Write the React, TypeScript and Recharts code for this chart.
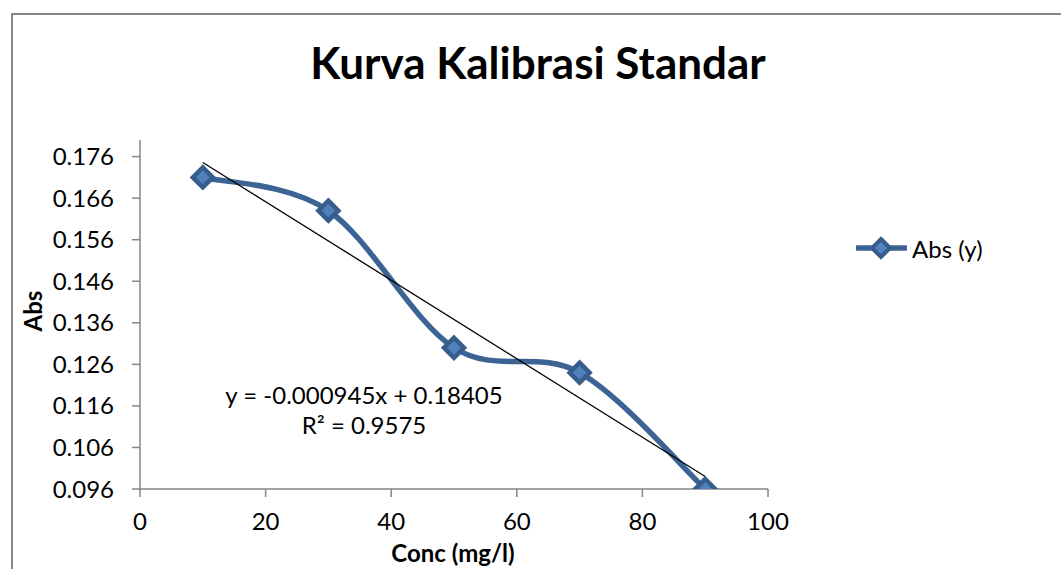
import React from 'react';
import { LineChart, Line, XAxis, YAxis } from 'recharts';

const concValues = [10, 30, 50, 70, 90];
const absValues = [0.171, 0.163, 0.13, 0.124, 0.096];
const trendX = [10, 90];
const trendValues = [0.1746, 0.099];
const xTicks = [0, 20, 40, 60, 80, 100];
const yTicks = [0.096, 0.106, 0.116, 0.126, 0.136, 0.146, 0.156, 0.166, 0.176];
const yTickLabels = ['0.096', '0.106', '0.116', '0.126', '0.136', '0.146', '0.156', '0.166', '0.176'];

const data = concValues.map((c, i) => ({ conc: c, abs: absValues[i] }));
const trendData = trendX.map((c, i) => ({ conc: c, trend: trendValues[i] }));

const FONT = 'Lato, "Open Sans", sans-serif';
const LINE_COLOR = '#3B6494';
const MARKER_EDGE = '#375D8C';
const MARKER_FILL = '#4F81BD';

// Excel-like smoothed curve (Catmull-Rom as cubic Bezier)
const excelSmooth: any = (context: any) => {
  let pts: number[][] = [];
  return {
    areaStart() {},
    areaEnd() {},
    lineStart() {
      pts = [];
    },
    lineEnd() {
      if (!pts.length) return;
      context.moveTo(pts[0][0], pts[0][1]);
      for (let i = 0; i < pts.length - 1; i++) {
        const p0 = pts[i - 1] || pts[i];
        const p1 = pts[i];
        const p2 = pts[i + 1];
        const p3 = pts[i + 2] || p2;
        context.bezierCurveTo(
          p1[0] + (p2[0] - p0[0]) / 6,
          p1[1] + (p2[1] - p0[1]) / 6,
          p2[0] - (p3[0] - p1[0]) / 6,
          p2[1] - (p3[1] - p1[1]) / 6,
          p2[0],
          p2[1]
        );
      }
    },
    point(x: number, y: number) {
      pts.push([+x, +y]);
    },
  };
};

const diamondPath = (cx: number, cy: number, r: number) =>
  `M${cx},${cy - r}L${cx + r},${cy}L${cx},${cy + r}L${cx - r},${cy}Z`;

const DiamondDot = (props: any) => {
  const { cx, cy, index } = props;
  if (cx == null || cy == null) return <g key={`d-${index}`} />;
  return (
    <path
      key={`d-${index}`}
      d={diamondPath(cx, cy, 10)}
      fill={MARKER_FILL}
      stroke={MARKER_EDGE}
      strokeWidth={4.5}
      strokeLinejoin="miter"
    />
  );
};

export default function App() {
  const tickStyle = { fontFamily: FONT, fontSize: 24, fill: '#000' };
  return (
    <div style={{ position: 'absolute', left: 0, top: 0, width: 1061, height: 569, background: '#fff', overflow: 'hidden' }}>
      <div
        style={{
          position: 'absolute',
          left: 11,
          top: 13,
          width: 1100,
          height: 600,
          border: '2px solid #878787',
          boxSizing: 'border-box',
        }}
      />
      <div
        style={{
          position: 'absolute',
          left: 0,
          width: 1076,
          top: 34,
          textAlign: 'center',
          fontFamily: FONT,
          fontWeight: 700,
          fontSize: 44,
          lineHeight: '56px',
          color: '#000',
        }}
      >
        Kurva Kalibrasi Standar
      </div>
      <div style={{ position: 'absolute', left: 0, top: 0 }}>
        <LineChart width={1061} height={569} data={data} margin={{ top: 140, right: 293, bottom: 40, left: 40 }}>
          <XAxis
            dataKey="conc"
            type="number"
            domain={[0, 100]}
            ticks={xTicks}
            height={40}
            tickSize={8}
            tickMargin={16}
            tick={tickStyle}
            stroke="#868686"
            strokeWidth={1.5}
            allowDataOverflow
          />
          <YAxis
            type="number"
            domain={[0.096, 0.18]}
            ticks={yTicks}
            width={100}
            tickSize={8}
            tickMargin={18}
            tick={tickStyle}
            tickFormatter={(v: number) => {
              const i = yTicks.indexOf(v);
              return i >= 0 ? yTickLabels[i] : String(v);
            }}
            stroke="#868686"
            strokeWidth={1.5}
            allowDataOverflow
          />
          <Line
            dataKey="abs"
            name="Abs (y)"
            type={excelSmooth}
            stroke={LINE_COLOR}
            strokeWidth={5.5}
            dot={DiamondDot}
            activeDot={false}
            isAnimationActive={false}
          />
          <Line
            data={trendData}
            dataKey="trend"
            type="linear"
            stroke="#000"
            strokeWidth={1.3}
            dot={false}
            activeDot={false}
            legendType="none"
            isAnimationActive={false}
          />
        </LineChart>
      </div>
      <div
        style={{
          position: 'absolute',
          left: 855,
          top: 233,
          display: 'flex',
          alignItems: 'center',
          fontFamily: FONT,
          fontSize: 24,
          color: '#000',
        }}
      >
        <svg width={54} height={30}>
          <line x1={1} y1={15} x2={52} y2={15} stroke={LINE_COLOR} strokeWidth={5.5} />
          <path d={diamondPath(26, 15, 9)} fill={MARKER_FILL} stroke={MARKER_EDGE} strokeWidth={4} />
        </svg>
        <span style={{ marginLeft: 3 }}>Abs (y)</span>
      </div>
      <div
        style={{
          position: 'absolute',
          left: 15,
          top: 296,
          width: 36,
          height: 30,
          transform: 'rotate(-90deg)',
          transformOrigin: 'center',
          textAlign: 'center',
          fontFamily: FONT,
          fontWeight: 700,
          fontSize: 24,
          lineHeight: '30px',
          color: '#000',
          whiteSpace: 'nowrap',
          display: 'flex',
          justifyContent: 'center',
        }}
      >
        Abs
      </div>
      <div
        style={{
          position: 'absolute',
          left: 303,
          width: 300,
          top: 538,
          textAlign: 'center',
          fontFamily: FONT,
          fontWeight: 700,
          fontSize: 24,
          lineHeight: '30px',
          color: '#000',
        }}
      >
        Conc (mg/l)
      </div>
      <div
        style={{
          position: 'absolute',
          left: 214,
          width: 300,
          top: 380,
          textAlign: 'center',
          fontFamily: FONT,
          fontSize: 24,
          lineHeight: '30px',
          color: '#000',
        }}
      >
        <div>y = -0.000945x + 0.18405</div>
        <div>R² = 0.9575</div>
      </div>
    </div>
  );
}
